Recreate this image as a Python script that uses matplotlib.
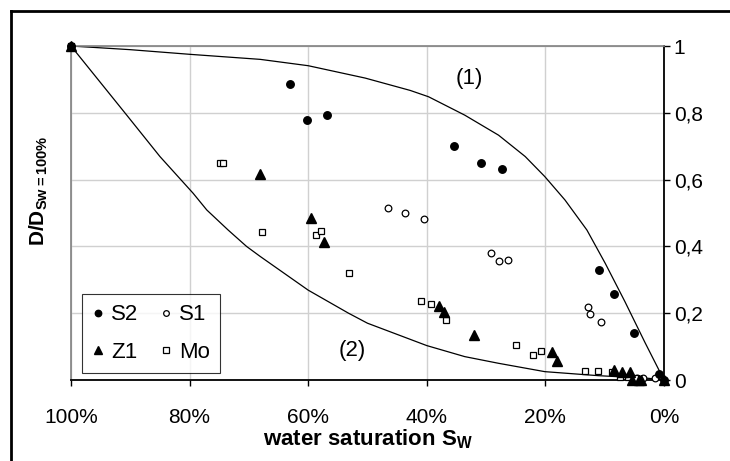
import numpy as np
import matplotlib
matplotlib.use("Agg")
import matplotlib.pyplot as plt
from matplotlib.lines import Line2D

plt.rcParams['font.family'] = ['Liberation Sans', 'DejaVu Sans']
plt.rcParams['mathtext.fontset'] = 'custom'
plt.rcParams['mathtext.rm'] = 'Liberation Sans'
plt.rcParams['mathtext.bf'] = 'Liberation Sans:bold'

# water saturation (%) and D/D(Sw=100%)
s2_x = [100, 63.1, 60.2, 56.8, 35.4, 30.9, 27.4, 11.0, 8.5, 5.1, 0.8, 0.0]
s2_y = [1.0, 0.886, 0.779, 0.794, 0.700, 0.649, 0.631, 0.328, 0.257, 0.140, 0.018, 0.0]

s1_x = [100, 46.5, 43.7, 40.5, 29.1, 27.9, 26.3, 12.8, 12.5, 10.6, 4.6, 3.5, 1.5]
s1_y = [1.0, 0.514, 0.499, 0.481, 0.380, 0.356, 0.359, 0.219, 0.198, 0.175, 0.006, 0.005, 0.005]

z1_x = [100, 68.1, 59.6, 57.4, 37.9, 37.1, 32.1, 18.9, 18.1, 8.5, 7.0, 5.7, 5.4, 4.3, 3.8, 0.0]
z1_y = [1.0, 0.617, 0.486, 0.414, 0.222, 0.204, 0.135, 0.083, 0.058, 0.030, 0.023, 0.025, 0.0, 0.0, 0.0, 0.0]

mo_x = [100, 74.8, 74.3, 67.8, 58.7, 57.9, 53.2, 41.0, 39.3, 36.8, 24.9, 22.1, 20.7,
        13.3, 11.2, 8.8, 7.4, 6.1, 4.9]
mo_y = [1.0, 0.649, 0.649, 0.443, 0.434, 0.446, 0.321, 0.237, 0.228, 0.179, 0.106, 0.074, 0.088,
        0.028, 0.028, 0.023, 0.010, 0.009, 0.006]

# model curves (1) and (2)
c1_x = [100, 90.0, 79.9, 68.1, 60.0, 50.4, 42.8, 39.7, 33.6, 27.9, 23.4, 20.1, 16.7,
        13.0, 9.9, 6.6, 3.2, 0]
c1_y = [1.0, 0.989, 0.975, 0.960, 0.941, 0.904, 0.867, 0.848, 0.793, 0.733, 0.669, 0.609, 0.539,
        0.449, 0.349, 0.235, 0.112, 0]

c2_x = [100, 90.6, 85.0, 79.4, 77.1, 73.5, 70.4, 68.1, 60.0, 53.2, 50.0, 40.0,
        33.6, 27.9, 20.1, 11.1, 2.6, 0]
c2_y = [1.0, 0.793, 0.669, 0.559, 0.509, 0.449, 0.400, 0.370, 0.269, 0.200, 0.170, 0.103,
        0.070, 0.050, 0.025, 0.013, 0.005, 0]

x_ticks = [100, 80, 60, 40, 20, 0]
x_labels = ['100%', '80%', '60%', '40%', '20%', '0%']
y_ticks = [0, 0.2, 0.4, 0.6, 0.8, 1.0]
y_labels = ['0', '0,2', '0,4', '0,6', '0,8', '1']

W, H = 730, 461
fig = plt.figure(figsize=(W / 100, H / 100), dpi=100)
ax = fig.add_axes([71/W, 81/H, 593/W, 334/H])

ax.plot(c1_x, c1_y, color='black', lw=0.9, zorder=2)
ax.plot(c2_x, c2_y, color='black', lw=0.9, zorder=2)

h_s2, = ax.plot(s2_x, s2_y, 'o', ms=5.4, color='black', ls='none', clip_on=False, zorder=4)
h_s1, = ax.plot(s1_x, s1_y, 'o', ms=4.8, mfc='white', mec='black', mew=0.9, ls='none', clip_on=False, zorder=3)
h_z1, = ax.plot(z1_x, z1_y, '^', ms=6.5, color='black', ls='none', clip_on=False, zorder=4)
h_mo, = ax.plot(mo_x, mo_y, 's', ms=4.8, mfc='white', mec='black', mew=0.9, ls='none', clip_on=False, zorder=3)

ax.set_xlim(100, 0)
ax.set_ylim(0, 1)
ax.set_xticks(x_ticks)
ax.set_xticklabels(x_labels)
ax.set_yticks(y_ticks)
ax.set_yticklabels(y_labels)
ax.yaxis.tick_right()
ax.tick_params(axis='both', direction='out', length=4.5, width=1, labelsize=15, color='black')
ax.tick_params(axis='x', pad=15.5)
ax.tick_params(axis='y', pad=2.5)
ax.grid(True, color='#d0d0d0', lw=1)
ax.set_axisbelow(True)

for side in ['top', 'left']:
    ax.spines[side].set_color('#808080')
    ax.spines[side].set_linewidth(1.2)
for side in ['bottom', 'right']:
    ax.spines[side].set_color('black')
    ax.spines[side].set_linewidth(1.3)

fig.text(368/W, 1 - 445/H, r'water saturation S$_{\mathbf{W}}$', fontsize=16, fontweight='bold',
         ha='center', va='baseline')
fig.text(44/W, 1 - 191/H, r'D/D$_{\mathbf{Sw=100\%}}$', fontsize=15, fontweight='bold',
         rotation=90, rotation_mode='anchor', ha='center', va='baseline')

ax.text(32.9, 0.904, '(1)', fontsize=16, ha='center', va='center')
ax.text(52.5, 0.088, '(2)', fontsize=16, ha='center', va='center')

leg = ax.legend([h_s2, h_z1, h_s1, h_mo], ['S2', 'Z1', 'S1', 'Mo'], ncol=2,
                loc='lower left', bbox_to_anchor=(0.0185, 0.021), borderaxespad=0,
                fontsize=16, frameon=True, fancybox=False, markerscale=0.85,
                handlelength=0.5, handletextpad=0.35, columnspacing=1.0,
                labelspacing=0.75, borderpad=0.45)
leg.get_frame().set_edgecolor('black')
leg.get_frame().set_linewidth(0.8)

# outer frame (only top and left edges are visible in the picture)
fig.add_artist(Line2D([11/W, 1], [1 - 11/H, 1 - 11/H], transform=fig.transFigure, color='black', lw=2))
fig.add_artist(Line2D([11/W, 11/W], [0, 1 - 11/H], transform=fig.transFigure, color='black', lw=2))

fig.savefig('out.png', dpi=100)
